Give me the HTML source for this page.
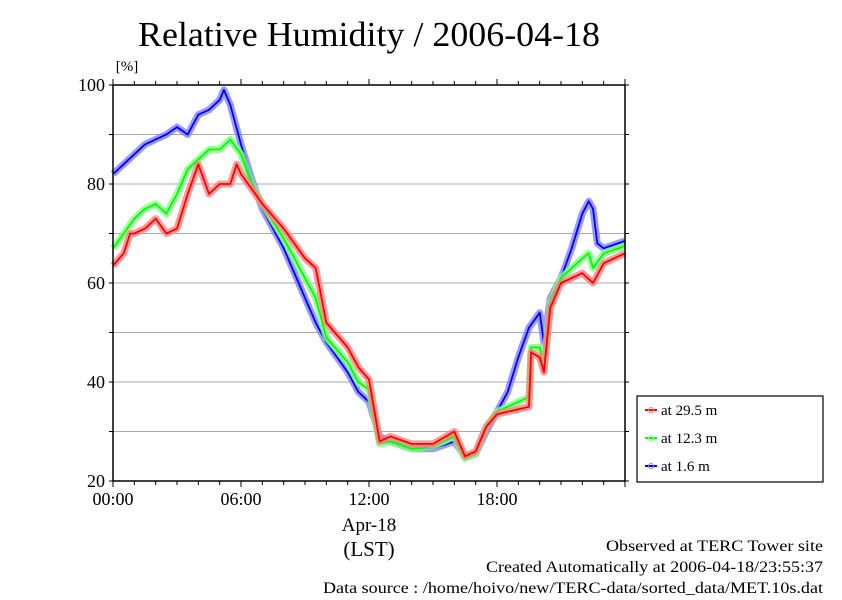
<!DOCTYPE html>
<html><head><meta charset="utf-8"><style>
body{margin:0;background:#fff}
svg text{font-family:"Liberation Serif",serif;fill:#000}
</style></head><body>
<svg width="842" height="595" xmlns="http://www.w3.org/2000/svg">
<g id="grid"></g>
<g id="series"></g>
<g id="axes"></g>
<text x="138" y="46" font-size="35" textLength="462" lengthAdjust="spacingAndGlyphs">Relative Humidity / 2006-04-18</text>
<text x="127" y="71" font-size="15" text-anchor="middle">[%]</text>
<text x="369" y="531" font-size="19" text-anchor="middle">Apr-18</text>
<text x="369" y="556" font-size="21" text-anchor="middle">(LST)</text>
<text x="606" y="551" font-size="16" textLength="217" lengthAdjust="spacingAndGlyphs">Observed at TERC Tower site</text>
<text x="486" y="572" font-size="16" textLength="337" lengthAdjust="spacingAndGlyphs">Created Automatically at 2006-04-18/23:55:37</text>
<text x="323" y="593" font-size="16" textLength="500" lengthAdjust="spacingAndGlyphs">Data source : /home/hoivo/new/TERC-data/sorted_data/MET.10s.dat</text>
<g>
<rect x="637" y="396" width="186" height="86" fill="#fff" stroke="#000" stroke-width="1.2"/>
<g id="legend"></g>
</g>
</svg>
<script>
const seriesNames=["at 29.5 m","at 12.3 m","at 1.6 m"];
const seriesColors=["#ff0000","#00ff00","#0000ff"];
const haloColors=["#ff8080","#80ff80","#8080ff"];
const yTicks=[20,40,60,80,100];
const xTickLabels=["00:00","06:00","12:00","18:00"];
const xTickHours=[0,6,12,18];
const redT=[0,0.5,0.8,1,1.5,2,2.5,3,3.5,4,4.5,5,5.5,5.8,6,6.5,7,8,9,9.5,10,11,11.5,12,12.5,13,14,15,16,16.5,17,17.5,18,19,19.5,19.6,20,20.2,20.5,21,21.5,22,22.5,23,24];
const redV=[63.5,66,70,70,71,73,70,71,78,84,78,80,80,84,82,79,76,71,65,63,52,47,43,40.5,28,29,27.5,27.5,30,25,26,31,33.5,34.5,35,46,45,42,55,60,61,62,60,64,66];
const greenT=[0,0.5,1,1.5,2,2.5,3,3.5,4,4.5,5,5.5,6,6.5,7,8,9,9.5,10,11,11.5,12,12.5,13,14,15,16,16.5,17,17.5,18,19,19.5,19.6,20,20.2,20.5,21,21.5,22,22.3,22.5,23,24];
const greenV=[67,70,73,75,76,74,78,83,85,87,87,89,86,80,76,69,61,57,49,44,40,38.5,27.5,28,26.5,27,29,24.5,25.5,31,34,36,37,47,47,43,56,61,63,65,66,63,66,67.5];
const blueT=[0,0.5,1,1.5,2,2.5,3,3.5,4,4.5,5,5.2,5.5,6,6.5,7,8,9,9.5,10,11,11.5,12,12.5,13,14,15,16,16.5,17,17.5,18,18.5,19,19.5,20,20.2,20.5,21,21.5,22,22.3,22.5,22.7,23,24];
const blueV=[82,84,86,88,89,90,91.5,90,94,95,97,99,96,88,81,75,67,57,52,48,42,38,36,29,28,26.5,26.5,28,25,25.5,30,34,38,45,51,54,48,57,61,67,74,76.5,75,68,67,68.5];
const X0=113,X1=625,Y0=481,Y1=85;
const xs=h=>X0+(X1-X0)*h/24;
const ys=v=>Y0-(Y0-Y1)*(v-20)/80;
const NS="http://www.w3.org/2000/svg";
function mk(tag,parent,attrs){const e=document.createElementNS(NS,tag);for(const k in attrs)e.setAttribute(k,attrs[k]);parent.appendChild(e);return e;}
const grid=document.getElementById('grid'),axes=document.getElementById('axes'),ser=document.getElementById('series'),leg=document.getElementById('legend');
for(let v=30;v<100;v+=10){const l=mk('line',grid,{x1:X0,x2:X1,y1:ys(v),y2:ys(v),stroke:'#aaa','stroke-width':1});

}
const frame=mk('rect',axes,{x:X0,y:Y1,width:X1-X0,height:Y0-Y1,fill:'none',stroke:'#000','stroke-width':1.5});


for(let v=20;v<=100;v+=10){mk('line',axes,{x1:X0-4,x2:X0,y1:ys(v),y2:ys(v),stroke:'#000'});mk('line',axes,{x1:X1,x2:X1+4,y1:ys(v),y2:ys(v),stroke:'#000'});}
yTicks.forEach(v=>{const t=mk('text',axes,{x:X0-8,y:ys(v)+6,'font-size':18,'text-anchor':'end'});t.textContent=v;

});
for(let h=0;h<=24;h++){const len=h%6==0?6:4;mk('line',axes,{x1:xs(h),x2:xs(h),y1:Y0,y2:Y0+len,stroke:'#000'});mk('line',axes,{x1:xs(h),x2:xs(h),y1:Y1-len,y2:Y1,stroke:'#000'});}
xTickHours.forEach((h,i)=>{const t=mk('text',axes,{x:xs(h),y:Y0+24,'font-size':18,'text-anchor':'middle'});t.textContent=xTickLabels[i];

});
const data=[[redT,redV],[greenT,greenV],[blueT,blueV]];
const order=[2,1,0];
order.forEach(i=>{const [T,V]=data[i];const d=T.map((t,j)=>(j?'L':'M')+xs(t).toFixed(1)+','+ys(V[j]).toFixed(1)).join('');
const h=mk('path',ser,{d:d,fill:'none',stroke:haloColors[i],'stroke-width':7,'stroke-linejoin':'round','stroke-opacity':0.8});


const p=mk('path',ser,{d:d,fill:'none',stroke:seriesColors[i],'stroke-width':1.8,'stroke-linejoin':'round'});

});
seriesNames.forEach((n,i)=>{const y=410+i*28;
mk('line',leg,{x1:645,x2:657,y1:y,y2:y,stroke:seriesColors[i],'stroke-width':2});
mk('circle',leg,{cx:651,cy:y,r:2.5,fill:'none',stroke:haloColors[i]});
const t=mk('text',leg,{x:661,y:y+5,'font-size':15});t.textContent=n;

});
</script>
</body></html>
